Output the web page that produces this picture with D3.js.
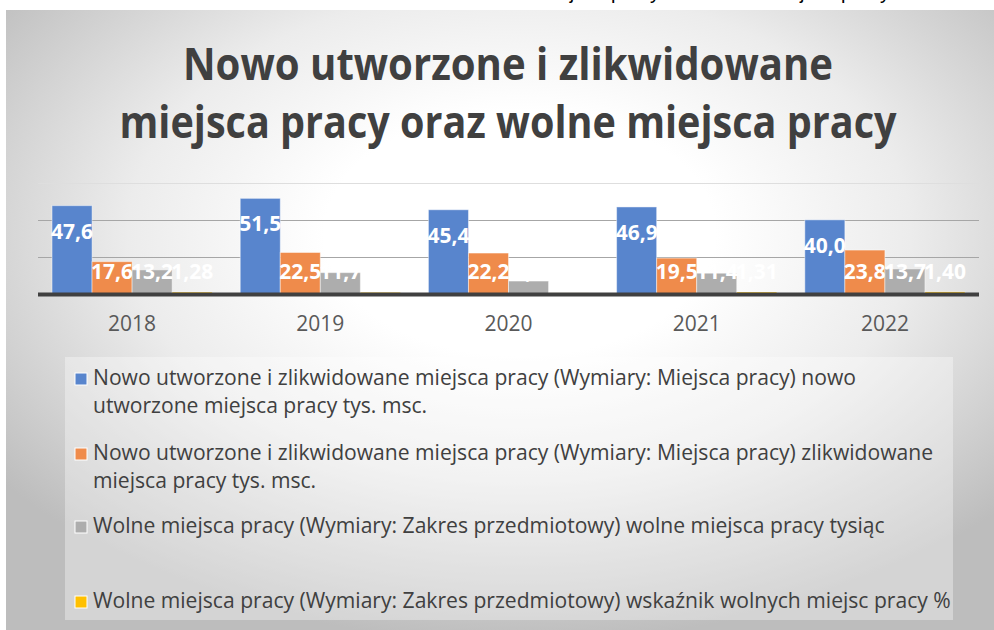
<!DOCTYPE html>
<html>
<head>
<meta charset="utf-8">
<style>
  body { margin: 0; background: #fff; }
  svg { display: block; }
  .title { font-family: "Open Sans", sans-serif; font-weight: 700; fill: #404040; }
  .lbl { font-family: "Open Sans", sans-serif; font-weight: 700; fill: #fff; text-anchor: middle; dominant-baseline: central; }
  .tick text { font-family: "Open Sans", sans-serif; font-size: 21px; fill: #595959; }
  .legend text { font-family: "Open Sans", sans-serif; fill: #404040; }
</style>
<script src="https://d3js.org/d3.v7.min.js"></script>
</head>
<body>
<script>
// data
const years = ['2018', '2019', '2020', '2021', '2022'];
const created = [47.6, 51.5, 45.4, 46.9, 40.0];      // tys. msc.
const liquidated = [17.6, 22.5, 22.2, 19.5, 23.8];   // tys. msc.
const vacancies = [13.2, 11.7, 7.2, 11.4, 13.7];     // tysiąc
const vacancyRate = [1.28, 1.17, 0.83, 1.31, 1.40];  // %
const yTicks = [20, 40, 60];

const seriesNames = [
  ['Nowo utworzone i zlikwidowane miejsca pracy (Wymiary: Miejsca pracy) nowo', 'utworzone miejsca pracy tys. msc.'],
  ['Nowo utworzone i zlikwidowane miejsca pracy (Wymiary: Miejsca pracy) zlikwidowane', 'miejsca pracy tys. msc.'],
  ['Wolne miejsca pracy (Wymiary: Zakres przedmiotowy) wolne miejsca pracy tysiąc'],
  ['Wolne miejsca pracy (Wymiary: Zakres przedmiotowy) wskaźnik wolnych miejsc pracy %']
];
const colors = ['#5885cd', '#ef8b4b', '#adadad', '#ffc000'];
const decimals = [1, 1, 1, 2];

const series = [created, liquidated, vacancies, vacancyRate].map((vals, i) => ({
  i, color: colors[i], dec: decimals[i],
  values: vals.map((v, j) => ({ year: years[j], v }))
}));

const W = 994, H = 630;
const svg = d3.select('body').append('svg').attr('width', W).attr('height', H);

const defs = svg.append('defs');
const grad = defs.append('radialGradient').attr('id', 'bg')
  .attr('cx', '0.52').attr('cy', '0.36').attr('r', '0.66');
grad.append('stop').attr('offset', '0').attr('stop-color', '#ffffff');
grad.append('stop').attr('offset', '0.3').attr('stop-color', '#ffffff');
grad.append('stop').attr('offset', '0.6').attr('stop-color', '#ececec');
grad.append('stop').attr('offset', '1').attr('stop-color', '#bdbdbd');

// cut-off caption from the page above
svg.append('text')
  .attr('x', 890).attr('y', -1)
  .attr('text-anchor', 'end')
  .style('font-family', 'Liberation Sans, sans-serif')
  .style('font-size', '20px')
  .text('Nowo utworzone i zlikwidowane miejsca pracy oraz wolne miejsca pracy');

// chart area
svg.append('rect').attr('x', 6).attr('y', 10).attr('width', W - 6).attr('height', H - 10)
  .attr('fill', 'url(#bg)');

// title
const titleLines = [
  { t: 'Nowo utworzone i zlikwidowane', y: 80, len: 650 },
  { t: 'miejsca pracy oraz wolne miejsca pracy', y: 138, len: 777 }
];
svg.selectAll('text.title').data(titleLines).join('text')
  .attr('class', 'title')
  .attr('x', 508).attr('y', d => d.y)
  .attr('text-anchor', 'middle')
  .style('font-size', '45px')
  .attr('textLength', d => d.len)
  .attr('lengthAdjust', 'spacingAndGlyphs')
  .text(d => d.t);

// scales
const x0 = d3.scaleBand().domain(years).range([38, 979]).paddingInner(0.149).paddingOuter(0.0745);
const x1 = d3.scaleBand().domain(d3.range(4)).range([0, x0.bandwidth()]);
const y = d3.scaleLinear().domain([0, 60]).range([294.5, 182.5]);

// gridlines
svg.append('g').selectAll('line').data(yTicks).join('line')
  .attr('x1', 38).attr('x2', 979)
  .attr('y1', d => Math.round(y(d)) + 0.5).attr('y2', d => Math.round(y(d)) + 0.5)
  .attr('stroke', d => d === 60 ? '#dedede' : '#a6a6a6')
  .attr('stroke-width', 1);

// bars
const groups = svg.append('g').selectAll('g').data(series).join('g');
groups.selectAll('rect').data(s => s.values.map(d => ({ ...d, s }))).join('rect')
  .attr('x', d => x0(d.year) + x1(d.s.i))
  .attr('width', x1.bandwidth())
  .attr('y', d => y(d.v))
  .attr('height', d => y(0) - y(d.v))
  .attr('fill', d => d.s.color)
  .attr('stroke', 'rgba(255,255,255,0.45)')
  .attr('stroke-width', 1);

// baseline
svg.append('line').attr('x1', 38).attr('x2', 979)
  .attr('y1', y(0)).attr('y2', y(0))
  .attr('stroke', '#404040').attr('stroke-width', 4);

// x axis labels
const xAxis = svg.append('g').attr('transform', 'translate(0,297)')
  .call(d3.axisBottom(x0).tickSize(0).tickPadding(19));
xAxis.select('.domain').remove();

// data labels
const fmt = (v, dec) => v.toFixed(dec).replace('.', ',');
groups.selectAll('text').data(s => s.values.map(d => ({ ...d, s }))).join('text')
  .attr('class', 'lbl')
  .style('font-size', '21px')
  .attr('x', d => x0(d.year) + x1(d.s.i) + x1.bandwidth() / 2)
  .attr('y', d => Math.min(y(d.v) + 25, y(0) - 24))
  .text(d => fmt(d.v, d.s.dec));

// legend
const lg = svg.append('g').attr('class', 'legend');
lg.append('rect').attr('x', 65).attr('y', 357).attr('width', 888).attr('height', 263)
  .attr('fill', 'rgba(255,255,255,0.35)');
const baselines = [385, 460, 533, 608];
const item = lg.selectAll('g.item').data(seriesNames).join('g').attr('class', 'item');
item.append('rect')
  .attr('x', 75).attr('y', (d, i) => baselines[i] - 12)
  .attr('width', 12).attr('height', 12)
  .attr('fill', (d, i) => colors[i])
  .attr('stroke', '#fff').attr('stroke-width', 1);
item.selectAll('text').data((d, i) => d.map((t, k) => ({ t, y: baselines[i] + k * 28 }))).join('text')
  .attr('x', 93).attr('y', d => d.y)
  .style('font-size', '21.1px')
  .text(d => d.t);
</script>
</body>
</html>
